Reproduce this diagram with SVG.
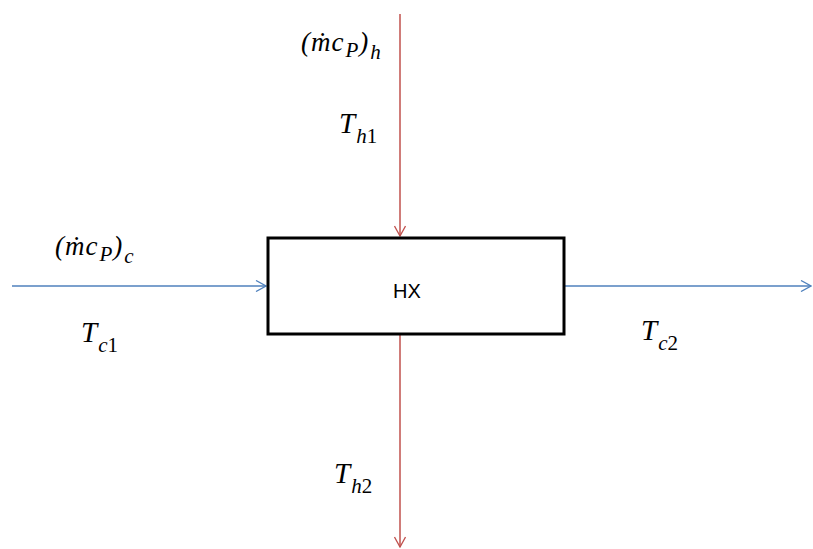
<svg xmlns="http://www.w3.org/2000/svg" width="813" height="549" viewBox="0 0 813 549">
<defs>
<marker id="arR" viewBox="0 0 12 12" refX="11" refY="6" markerWidth="12" markerHeight="12" markerUnits="userSpaceOnUse" orient="auto">
<path d="M1,0.5 L11,6 L1,11.5" fill="none" stroke="#C0504D" stroke-width="1.3"/>
</marker>
<marker id="arB" viewBox="0 0 12 12" refX="11" refY="6" markerWidth="12" markerHeight="12" markerUnits="userSpaceOnUse" orient="auto">
<path d="M1,0.5 L11,6 L1,11.5" fill="none" stroke="#4F81BD" stroke-width="1.3"/>
</marker>
</defs>
<style>
.hot{stroke:#C0504D;stroke-width:1.5;fill:none;marker-end:url(#arR)}
.cold{stroke:#4F81BD;stroke-width:1.5;fill:none;marker-end:url(#arB)}
.m{font-family:"Liberation Serif","DejaVu Serif",serif;font-style:italic;fill:#000}
.big{font-size:29px}
.sm{font-size:21px}
.mp{font-size:27px;letter-spacing:1px}
.up{font-style:normal}
.lbl{font-family:"Liberation Sans",Arial,sans-serif;font-size:20px;fill:#000}
</style>
<rect width="813" height="549" fill="#fff"/>
<g id="connectors">
<line class="hot" x1="400" y1="14" x2="400" y2="236"/>
<line class="hot" x1="400" y1="335" x2="400" y2="547"/>
<line class="cold" x1="12" y1="286" x2="266" y2="286"/>
<line class="cold" x1="565" y1="286" x2="811" y2="286"/>
</g>
<g id="hx">
<rect x="268" y="238" width="296" height="96" fill="#fff" stroke="#000" stroke-width="3"/>
<text class="lbl" x="407" y="298" text-anchor="middle">HX</text>
</g>
<g id="labels">
<text class="m" x="301" y="51"><tspan class="mp">(ṁc</tspan><tspan class="sm" dx="1" dy="6">P</tspan><tspan class="mp" dx="1" dy="-6">)</tspan><tspan class="sm" dx="1" dy="8">h</tspan></text>
<text class="m" x="339" y="133"><tspan class="big">T</tspan><tspan class="sm" dx="1" dy="10">h</tspan><tspan class="sm up">1</tspan></text>
<text class="m" x="55" y="255"><tspan class="mp">(ṁc</tspan><tspan class="sm" dx="1" dy="6">P</tspan><tspan class="mp" dx="1" dy="-6">)</tspan><tspan class="sm" dx="1" dy="8">c</tspan></text>
<text class="m" x="81" y="342"><tspan class="big">T</tspan><tspan class="sm" dx="1" dy="10">c</tspan><tspan class="sm up">1</tspan></text>
<text class="m" x="641" y="340"><tspan class="big">T</tspan><tspan class="sm" dx="1" dy="10">c</tspan><tspan class="sm up">2</tspan></text>
<text class="m" x="334" y="483"><tspan class="big">T</tspan><tspan class="sm" dx="1" dy="10">h</tspan><tspan class="sm up">2</tspan></text>
</g>
</svg>
